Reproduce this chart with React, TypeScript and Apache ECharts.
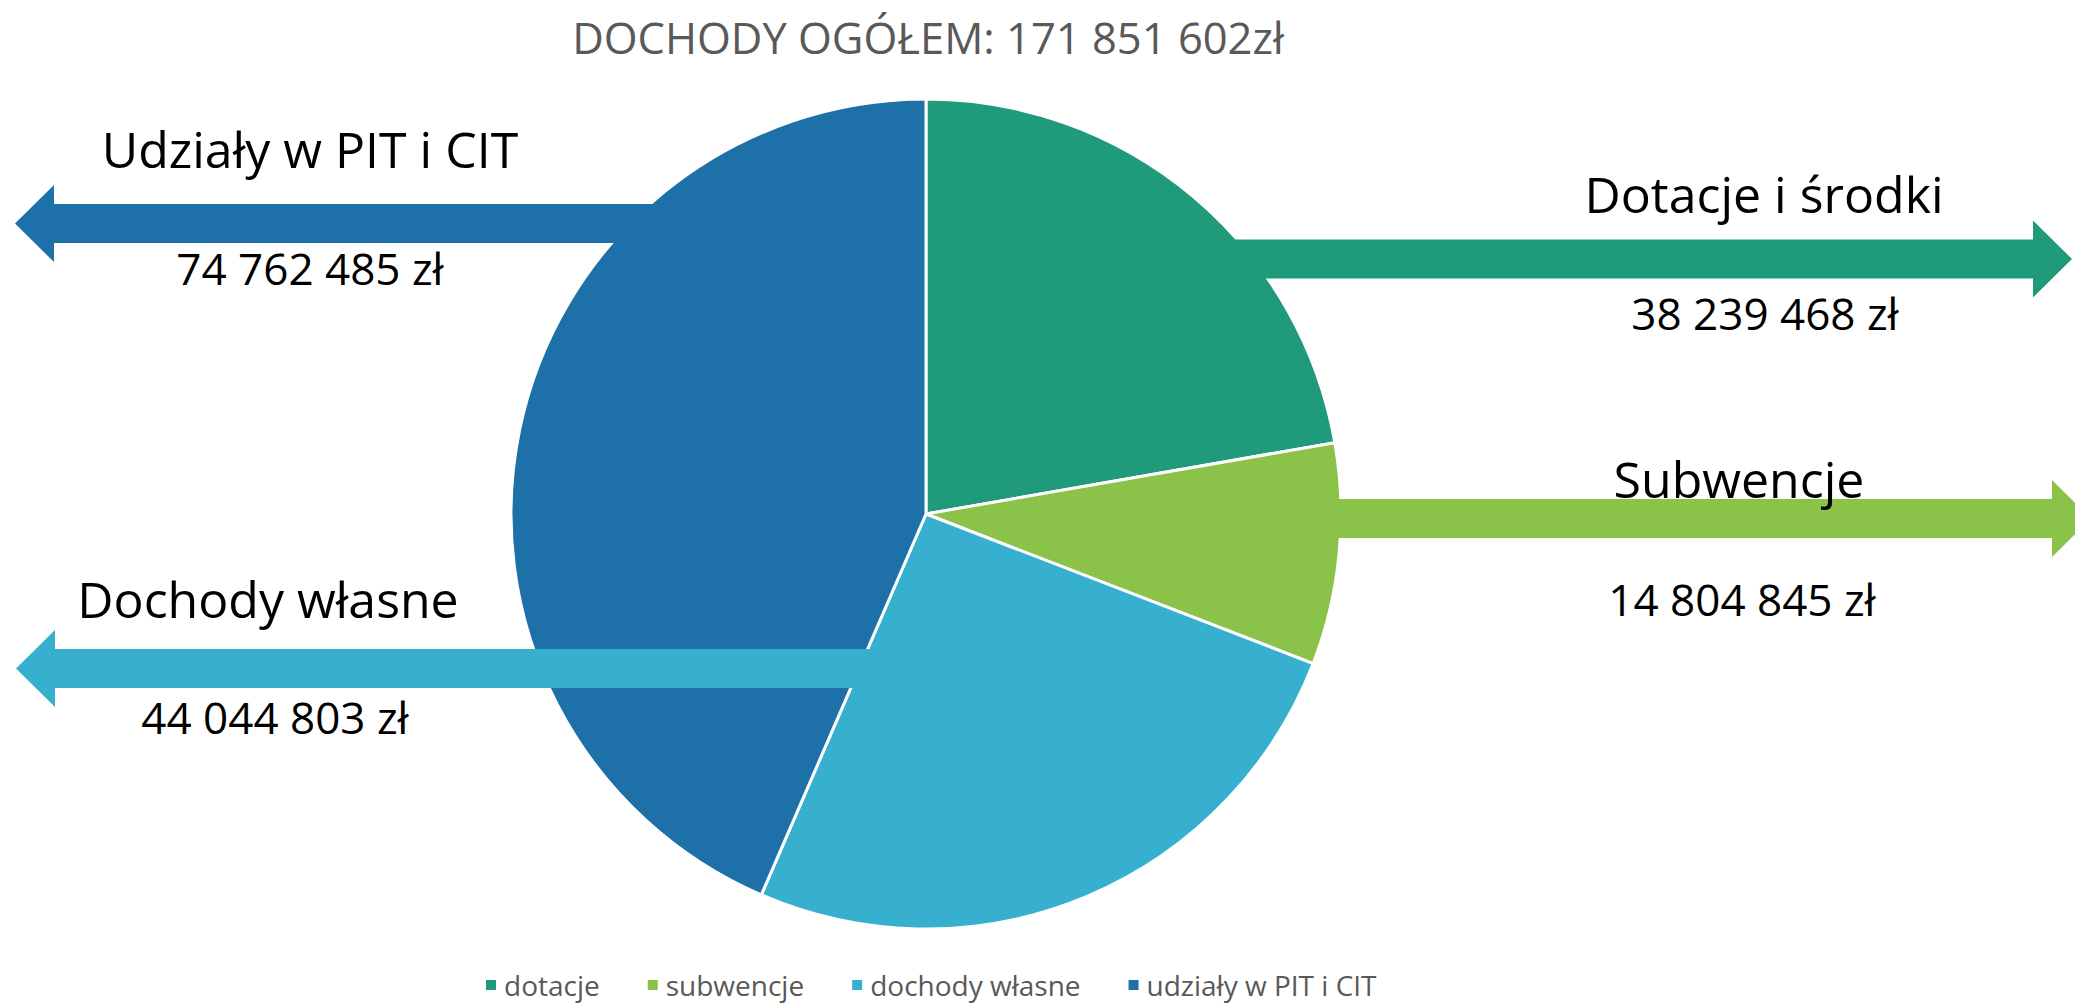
import React, { useEffect, useRef } from 'react';
import * as echarts from 'echarts';

// ---- data ----
const categories = ['dotacje', 'subwencje', 'dochody własne', 'udziały w PIT i CIT'];
const values = [38239468, 14804845, 44044803, 74762485];
const calloutTitles = ['Dotacje i środki', 'Subwencje', 'Dochody własne', 'Udziały w PIT i CIT'];
const calloutValues = ['38 239 468 zł', '14 804 845 zł', '44 044 803 zł', '74 762 485 zł'];
const chartTitle = 'DOCHODY OGÓŁEM: 171 851 602zł';

// ---- styles / layout ----
const colors = ['#1F9B7B', '#8BC24A', '#37AFCF', '#1E70A9'];
const FONT = '"Open Sans", sans-serif';
const CX = 926;
const CY = 514;
const R = 415;

// per category: arrow (tip x, head back x, body end x, center y), title pos, value pos
const callouts = [
  { tip: 2072, back: 2033, end: 1050, cy: 259, title: [1764, 194], value: [1765, 313] },
  { tip: 2091, back: 2052, end: 1200, cy: 518.5, title: [1739, 479], value: [1742, 599] },
  { tip: 16, back: 55, end: 950, cy: 668.5, title: [268, 599], value: [275, 717] },
  { tip: 15, back: 54, end: 800, cy: 223.5, title: [310, 149], value: [310, 268] },
];
const BODY_HALF = 19.5;
const HEAD_HALF = 38.5;

function arrowPoints(tip: number, back: number, end: number, cy: number) {
  return [
    [tip, cy],
    [back, cy - HEAD_HALF],
    [back, cy - BODY_HALF],
    [end, cy - BODY_HALF],
    [end, cy + BODY_HALF],
    [back, cy + BODY_HALF],
    [back, cy + HEAD_HALF],
  ];
}

function txt(text: string, x: number, y: number, size: number, fill: string) {
  return {
    type: 'text',
    x,
    y,
    z: 20,
    style: {
      text,
      fontSize: size,
      fontFamily: FONT,
      fill,
      textAlign: 'center',
      textVerticalAlign: 'middle',
      align: 'center',
      verticalAlign: 'middle',
    },
  };
}

export default function App() {
  const ref = useRef<HTMLDivElement>(null);
  useEffect(() => {
    const chart = echarts.init(ref.current!, null, { renderer: 'svg', width: 2075, height: 1004 });
    const elements: any[] = [];
    callouts.forEach((c, i) => {
      elements.push({
        type: 'polygon',
        z: 10,
        shape: { points: arrowPoints(c.tip, c.back, c.end, c.cy) },
        style: { fill: colors[i] },
      });
      elements.push(txt(calloutTitles[i], c.title[0], c.title[1], 50, '#000'));
      elements.push(txt(calloutValues[i], c.value[0], c.value[1], 44, '#000'));
    });
    elements.push(txt(chartTitle, 928, 37, 43.5, '#595959'));

    chart.setOption({
      animation: false,
      backgroundColor: '#fff',
      color: colors,
      legend: {
        data: categories,
        left: 484,
        top: 971,
        padding: 0,
        icon: 'rect',
        itemWidth: 12,
        itemHeight: 12,
        itemGap: 46,
        textStyle: { fontSize: 28, fontFamily: FONT, color: '#595959', padding: [0, 0, 0, 2] },
        selectedMode: false,
      },
      graphic: { elements },
      series: [
        {
          type: 'pie',
          center: [CX, CY],
          radius: R,
          startAngle: 90,
          clockwise: true,
          label: { show: false },
          labelLine: { show: false },
          emphasis: { disabled: true },
          itemStyle: { borderColor: '#fff', borderWidth: 3 },
          data: categories.map((name, i) => ({ name, value: values[i] })),
        },
      ],
    });
    return () => chart.dispose();
  }, []);
  return (
    <div
      ref={ref}
      style={{ position: 'fixed', left: 0, top: 0, width: 2075, height: 1004, background: '#fff' }}
    />
  );
}
